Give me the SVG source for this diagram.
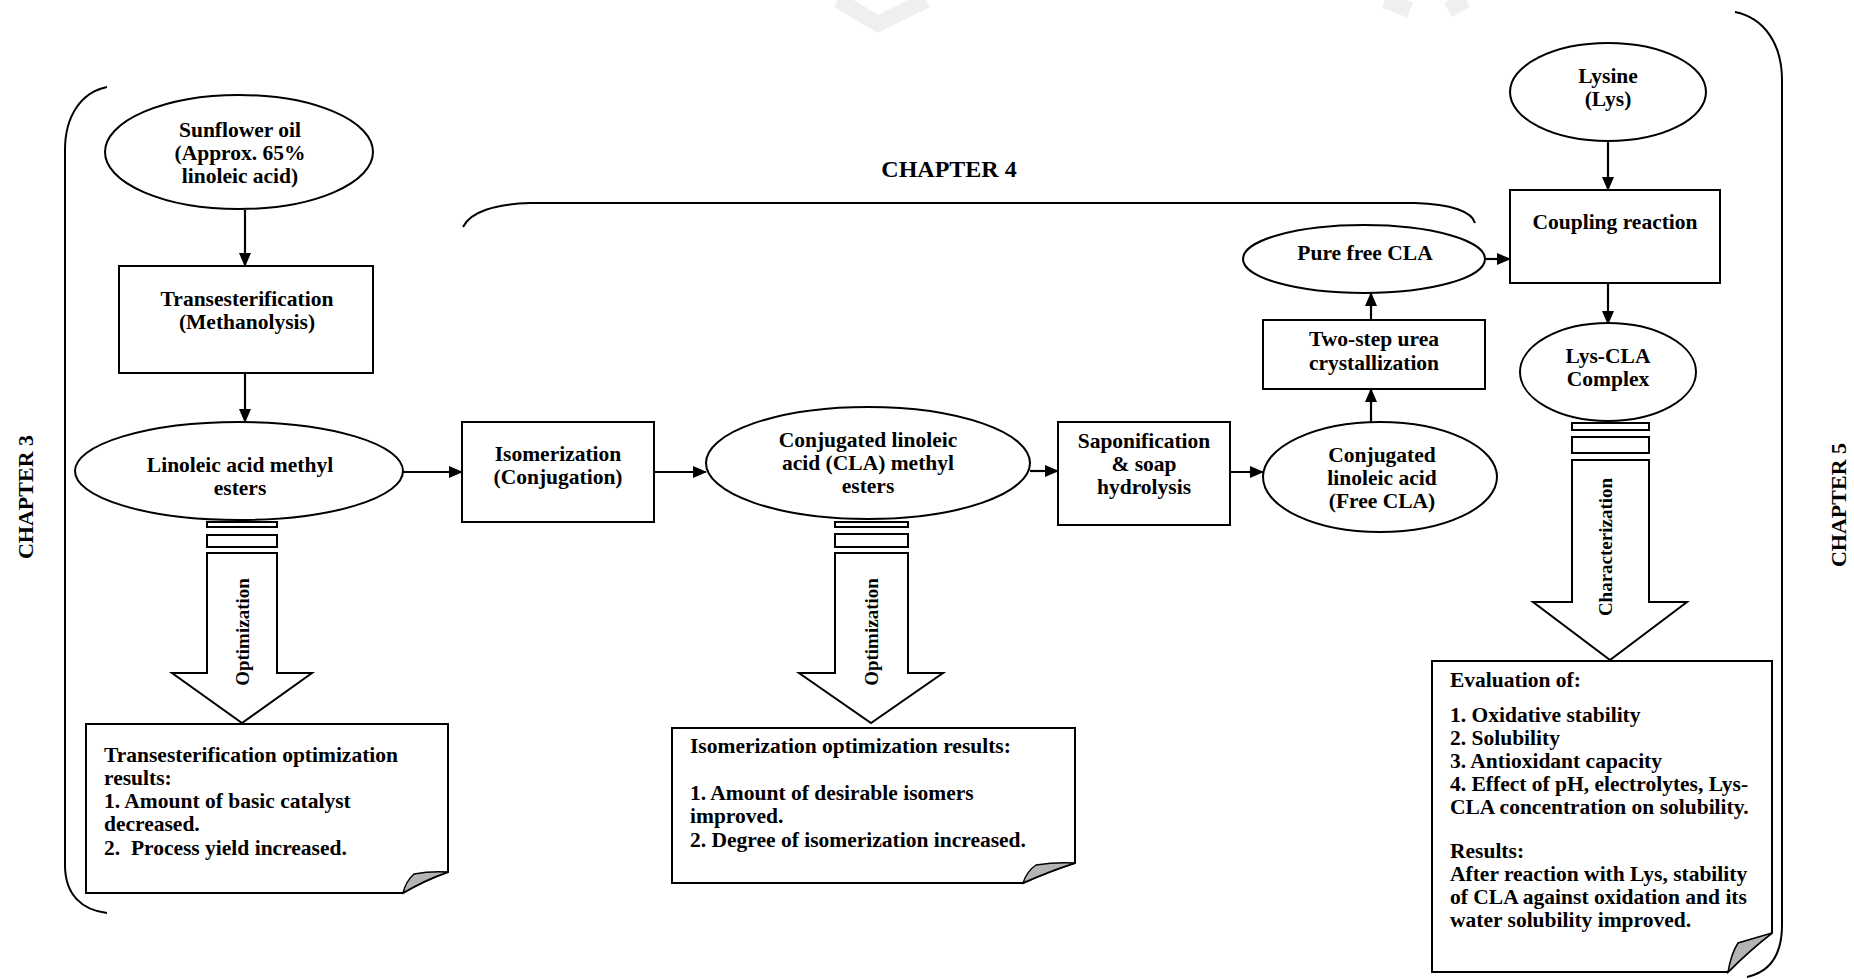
<svg xmlns="http://www.w3.org/2000/svg" width="1854" height="979" viewBox="0 0 1854 979">
<defs>
<marker id="ah" markerUnits="userSpaceOnUse" markerWidth="14" markerHeight="12" refX="13" refY="6" orient="auto">
<path d="M0,0 L14,6 L0,12 Z" fill="#000"/>
</marker>
</defs>
<style>
text{font-family:"Liberation Serif","Times New Roman",serif;font-weight:bold;fill:#000}
.n{font-size:21.5px;text-anchor:middle}
.t{font-size:21.5px}
.ch{font-size:24px;text-anchor:middle}
.cv{font-size:22px;text-anchor:middle}
.v{font-size:19px;text-anchor:middle}
.s{fill:#fff;stroke:#000;stroke-width:2}
.br{fill:none;stroke:#000;stroke-width:2}
.c{fill:none;stroke:#000;stroke-width:2.2;marker-end:url(#ah)}
.fold{fill:#b4b4b4;stroke:#000;stroke-width:1.5}
.wm{fill:none;stroke:#efefef;stroke-width:16}
</style>
<rect width="1854" height="979" fill="#fff"/>
<g id="watermark">
<polyline class="wm" points="838,0 878,24 926,0"/>
<polyline class="wm" points="1385,0 1410,10"/>
<polyline class="wm" points="1448,10 1466,0"/>
</g>
<g id="brackets">
<path class="br" d="M107,87 C82,92 65,115 65,150 L65,865 C65,895 82,910 107,913"/>
<path class="br" d="M463,227 C470,212 495,204 530,203 L1415,203 C1452,204 1472,212 1475,223"/>
<path class="br" d="M1735,12 C1765,18 1782,45 1782,80 L1782,925 C1782,955 1770,972 1747,977"/>
</g>
<g id="chapter3"><text class="cv" transform="translate(33,497) rotate(-90)">CHAPTER 3</text></g>
<g id="chapter4"><text class="ch" x="949" y="177">CHAPTER 4</text></g>
<g id="chapter5"><text class="cv" transform="translate(1846,505) rotate(-90)">CHAPTER 5</text></g>
<g id="connectors">
<line class="c" x1="245" y1="210" x2="245" y2="266"/>
<line class="c" x1="245" y1="373" x2="245" y2="422"/>
<line class="c" x1="403" y1="472" x2="462" y2="472"/>
<line class="c" x1="654" y1="472" x2="706" y2="472"/>
<line class="c" x1="1030" y1="471" x2="1058" y2="471"/>
<line class="c" x1="1230" y1="472" x2="1263" y2="472"/>
<line class="c" x1="1371" y1="422" x2="1371" y2="389"/>
<line class="c" x1="1371" y1="320" x2="1371" y2="293"/>
<line class="c" x1="1485" y1="259" x2="1510" y2="259"/>
<line class="c" x1="1608" y1="141" x2="1608" y2="190"/>
<line class="c" x1="1608" y1="283" x2="1608" y2="324"/>
</g>
<g id="sunflower">
<ellipse class="s" cx="239" cy="152" rx="134" ry="57"/>
<text class="n" x="240" y="137">Sunflower oil</text>
<text class="n" x="240" y="160">(Approx. 65%</text>
<text class="n" x="240" y="183">linoleic acid)</text>
</g>
<g id="transesterification">
<rect class="s" x="119" y="266" width="254" height="107"/>
<text class="n" x="247" y="306">Transesterification</text>
<text class="n" x="247" y="329">(Methanolysis)</text>
</g>
<g id="linoleic-esters">
<ellipse class="s" cx="239" cy="471" rx="164" ry="49"/>
<text class="n" x="240" y="472">Linoleic acid methyl</text>
<text class="n" x="240" y="495">esters</text>
</g>
<g id="optimization1">
<rect class="s" x="207" y="522" width="70" height="5"/>
<rect class="s" x="207" y="535" width="70" height="12"/>
<path class="s" d="M207,553 L277,553 L277,673 L312,673 L242,723 L172,673 L207,673 Z"/>
<text class="v" transform="translate(249,632) rotate(-90)">Optimization</text>
</g>
<g id="note1">
<path class="s" d="M86,724 L448,724 L448,872 Q425,880 403,893 L86,893 Z"/>
<path class="fold" d="M448,872 Q425,880 403,893 Q406,881 414,874 Q430,871 448,872 Z"/>
<text class="t" x="104" y="762">Transesterification optimization</text>
<text class="t" x="104" y="785">results:</text>
<text class="t" x="104" y="808">1. Amount of basic catalyst</text>
<text class="t" x="104" y="831">decreased.</text>
<text class="t" x="104" y="855">2.&#160; Process yield increased.</text>
</g>
<g id="isomerization">
<rect class="s" x="462" y="422" width="192" height="100"/>
<text class="n" x="558" y="461">Isomerization</text>
<text class="n" x="558" y="484">(Conjugation)</text>
</g>
<g id="cla-esters">
<ellipse class="s" cx="868" cy="463" rx="162" ry="56"/>
<text class="n" x="868" y="447">Conjugated linoleic</text>
<text class="n" x="868" y="470">acid (CLA) methyl</text>
<text class="n" x="868" y="493">esters</text>
</g>
<g id="optimization2">
<rect class="s" x="835" y="522" width="73" height="5"/>
<rect class="s" x="835" y="534" width="73" height="13"/>
<path class="s" d="M835,553 L908,553 L908,673 L943,673 L871,723 L799,673 L835,673 Z"/>
<text class="v" transform="translate(878,632) rotate(-90)">Optimization</text>
</g>
<g id="note2">
<path class="s" d="M672,728 L1075,728 L1075,863 Q1050,871 1023,883 L672,883 Z"/>
<path class="fold" d="M1075,863 Q1050,871 1023,883 Q1027,871 1036,865 Q1055,862 1075,863 Z"/>
<text class="t" x="690" y="753">Isomerization optimization results:</text>
<text class="t" x="690" y="800">1. Amount of desirable isomers</text>
<text class="t" x="690" y="823">improved.</text>
<text class="t" x="690" y="847">2. Degree of isomerization increased.</text>
</g>
<g id="saponification">
<rect class="s" x="1058" y="422" width="172" height="103"/>
<text class="n" x="1144" y="448">Saponification</text>
<text class="n" x="1144" y="471">&amp; soap</text>
<text class="n" x="1144" y="494">hydrolysis</text>
</g>
<g id="free-cla">
<ellipse class="s" cx="1380" cy="477" rx="117" ry="55"/>
<text class="n" x="1382" y="462">Conjugated</text>
<text class="n" x="1382" y="485">linoleic acid</text>
<text class="n" x="1382" y="508">(Free CLA)</text>
</g>
<g id="urea">
<rect class="s" x="1263" y="320" width="222" height="69"/>
<text class="n" x="1374" y="346">Two-step urea</text>
<text class="n" x="1374" y="370">crystallization</text>
</g>
<g id="pure-cla">
<ellipse class="s" cx="1364" cy="259" rx="121" ry="34"/>
<text class="n" x="1365" y="260">Pure free CLA</text>
</g>
<g id="lysine">
<ellipse class="s" cx="1608" cy="92" rx="98" ry="49"/>
<text class="n" x="1608" y="83">Lysine</text>
<text class="n" x="1608" y="106">(Lys)</text>
</g>
<g id="coupling">
<rect class="s" x="1510" y="190" width="210" height="93"/>
<text class="n" x="1615" y="229">Coupling reaction</text>
</g>
<g id="lys-cla">
<ellipse class="s" cx="1608" cy="372" rx="88" ry="49"/>
<text class="n" x="1608" y="363">Lys-CLA</text>
<text class="n" x="1608" y="386">Complex</text>
</g>
<g id="characterization">
<rect class="s" x="1572" y="423" width="77" height="7"/>
<rect class="s" x="1572" y="437" width="77" height="16"/>
<path class="s" d="M1572,460 L1649,460 L1649,602 L1687,602 L1610,660 L1533,602 L1572,602 Z"/>
<text class="v" transform="translate(1612,547) rotate(-90)">Characterization</text>
</g>
<g id="evaluation">
<path class="s" d="M1432,661 L1772,661 L1772,933 Q1750,950 1728,972 L1432,972 Z"/>
<path class="fold" d="M1772,933 Q1750,950 1728,972 Q1731,954 1738,943 Q1755,938 1772,933 Z"/>
<text class="t" x="1450" y="687">Evaluation of:</text>
<text class="t" x="1450" y="722">1. Oxidative stability</text>
<text class="t" x="1450" y="745">2. Solubility</text>
<text class="t" x="1450" y="768">3. Antioxidant capacity</text>
<text class="t" x="1450" y="791">4. Effect of pH, electrolytes, Lys-</text>
<text class="t" x="1450" y="814">CLA concentration on solubility.</text>
<text class="t" x="1450" y="858">Results:</text>
<text class="t" x="1450" y="881">After reaction with Lys, stability</text>
<text class="t" x="1450" y="904">of CLA against oxidation and its</text>
<text class="t" x="1450" y="927">water solubility improved.</text>
</g>
</svg>
